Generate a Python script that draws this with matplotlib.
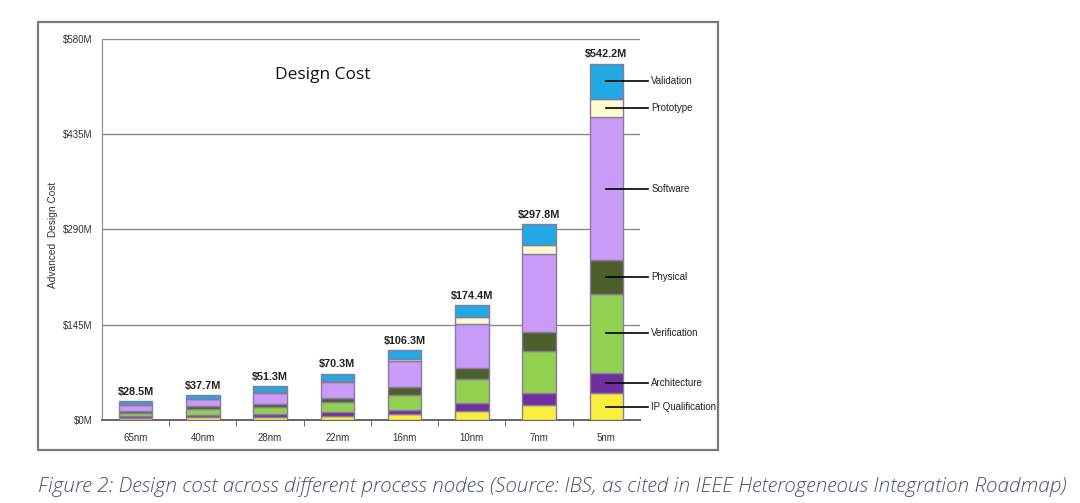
import numpy as np
import matplotlib.pyplot as plt
from matplotlib.patches import Rectangle

# nodes and totals
nodes = ['65nm', '40nm', '28nm', '22nm', '16nm', '10nm', '7nm', '5nm']
totals = ['$28.5M', '$37.7M', '$51.3M', '$70.3M', '$106.3M', '$174.4M', '$297.8M', '$542.2M']

# cost components, bottom to top ($M)
ip_qual = [3.0, 4.0, 5.0, 6.6, 8.5, 14.2, 22.9, 40.7]
architecture = [3.6, 4.0, 4.5, 5.0, 6.8, 11.3, 17.8, 30.6]
verification = [4.2, 8.5, 10.5, 16.3, 23.5, 37.0, 63.6, 121.0]
physical = [3.6, 5.0, 4.5, 5.6, 11.5, 16.3, 29.6, 51.0]
software = [8.6, 10.0, 17.0, 24.0, 39.0, 67.7, 119.5, 218.0]
prototype = [0.8, 1.2, 1.8, 2.5, 4.0, 10.0, 13.6, 27.2]
validation = [4.7, 5.0, 8.0, 10.3, 13.0, 17.9, 30.8, 53.7]

components = ['IP Qualification', 'Architecture', 'Verification', 'Physical',
              'Software', 'Prototype', 'Validation']
series = [ip_qual, architecture, verification, physical, software, prototype, validation]
colors = ['#f7ef3c', '#6f2f9f', '#92d050', '#4d5f2b', '#c89bf7', '#fdfbd0', '#22a8e2']

yticks = [0, 145, 290, 435, 580]
ytick_labels = ['$0M', '$145M', '$290M', '$435M', '$580M']

plt.rcParams['font.family'] = ['Liberation Sans', 'DejaVu Sans']

fig = plt.figure(figsize=(10.8, 5.03), dpi=100)

# outer frame around the chart
fig.patches.append(Rectangle((0.0352, 0.105), 0.630, 0.851, transform=fig.transFigure,
                             fill=False, edgecolor='#7a7a7a', linewidth=1.6))

ax = fig.add_axes([0.0944, 0.165, 0.4982, 0.7575])
x = np.arange(len(nodes))
bottom = np.zeros(len(nodes))
for name, vals, c in zip(components, series, colors):
    ax.bar(x, vals, width=0.5, bottom=bottom, color=c, edgecolor='#8a7a9e',
           linewidth=1.0, zorder=3)
    bottom += np.array(vals)

for xi, top, lab in zip(x, bottom, totals):
    ax.text(xi, top + 7, lab, ha='center', va='bottom', fontsize=7.8,
            fontweight='bold', color='#222222')

# labels next to the 5nm bar
last = len(nodes) - 1
base = 0
for name, vals in zip(components, series):
    mid = base + vals[last] / 2
    base += vals[last]
    ax.plot([last, last + 0.62], [mid, mid], color='black', linewidth=1.2,
            zorder=4, clip_on=False)
    ax.text(last + 0.67, mid, name, ha='left', va='center', fontsize=7, color='#222222')

ax.set_xlim(-0.5, len(nodes) - 0.5)
ax.set_ylim(0, 580)
ax.set_yticks(yticks)
ax.set_yticklabels(ytick_labels, fontsize=7, color='#333333')
ax.set_xticks(x)
ax.set_xticklabels(nodes, fontsize=7, color='#333333')
ax.tick_params(axis='x', length=0, pad=9)
ax.tick_params(axis='y', length=0, pad=7)
ax.set_xticks(np.arange(0.5, len(nodes) - 0.5), minor=True)
ax.tick_params(axis='x', which='minor', length=4, color='#555555', direction='out')
ax.yaxis.grid(True, color='#8a8a8a', linewidth=1.0, zorder=0)
for s in ['top', 'right']:
    ax.spines[s].set_visible(False)
ax.spines['left'].set_color('#8a8a8a')
ax.spines['bottom'].set_color('#666666')
ax.spines['bottom'].set_linewidth(1.4)
ax.set_ylabel('Advanced  Design Cost', fontsize=7.3, color='#333333')
ax.yaxis.set_label_coords(-0.082, 0.485)

ax.text(0.41, 0.905, 'Design Cost', transform=ax.transAxes, ha='center', va='center',
        fontsize=12.5, family=['Open Sans', 'DejaVu Sans'], color='#111111')

cap = fig.text(0.035, 0.032, 'Figure 2: Design cost across different process nodes '
               '(Source: IBS, as cited in IEEE Heterogeneous Integration Roadmap)',
               ha='left', va='center', fontsize=13, style='italic', fontweight='light',
               family=['Open Sans', 'DejaVu Sans'], color='#44546a')
# fit caption width to the reference
fig.canvas.draw()
w = cap.get_window_extent().width
cap.set_fontsize(13 * 1022 / w)

fig.savefig('out.png', dpi=100)
